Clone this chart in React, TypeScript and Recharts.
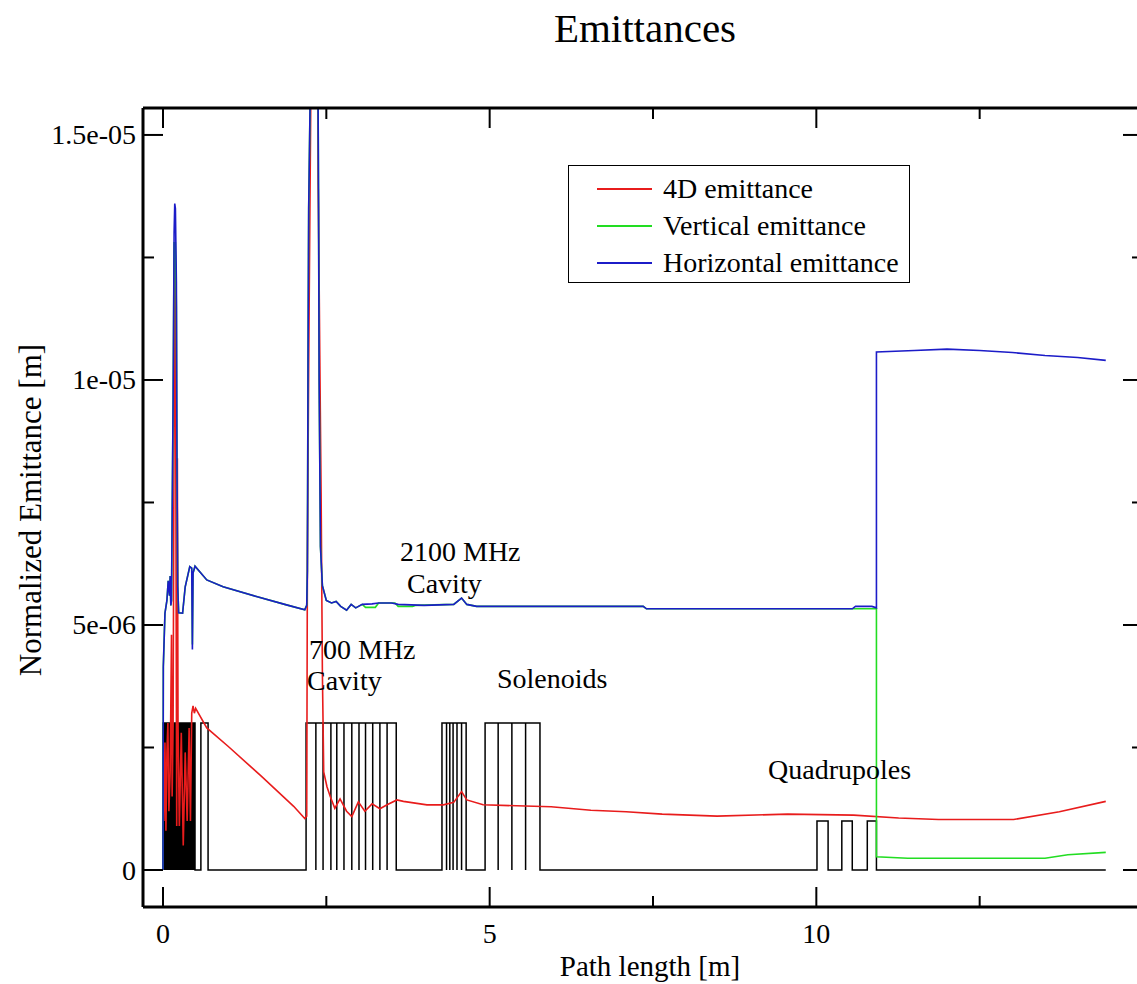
import React from 'react';
import { LineChart, Line, XAxis, YAxis, ReferenceArea, Legend } from 'recharts';

// emittance curves: [path length (m), emittance (1e-6 m)]
const RED_4D: [number, number][] = [
  [0, 2.0], [0.015, 1.0], [0.03, 2.6], [0.045, 0.8], [0.06, 2.4], [0.075, 3.0], [0.09, 1.2],
  [0.11, 2.0], [0.13, 4.8], [0.14, 1.5], [0.155, 3.0], [0.17, 9.0], [0.18, 12.5], [0.19, 12.0],
  [0.2, 6.0], [0.21, 0.9], [0.22, 8.4], [0.23, 3.0], [0.25, 0.9], [0.28, 2.8], [0.31, 0.5],
  [0.34, 2.4], [0.37, 1.0], [0.4, 2.9], [0.42, 1.0], [0.44, 3.2], [0.46, 3.35], [0.48, 3.2],
  [0.5, 3.3], [0.67, 2.9], [1.0, 2.52], [1.5, 1.92], [2.0, 1.3], [2.17, 1.05], [2.2, 1.1],
  [2.21, 6.2], [2.23, 10.3], [2.25, 13.7], [2.27, 17], [2.29, 20], [2.36, 20], [2.375, 14],
  [2.38, 13.5], [2.4, 10.5], [2.42, 7.7], [2.44, 4.0], [2.46, 2.0], [2.51, 1.7], [2.56, 1.5],
  [2.63, 1.26], [2.71, 1.45], [2.81, 1.2], [2.89, 1.09], [2.99, 1.39], [3.09, 1.2], [3.2, 1.35],
  [3.32, 1.25], [3.43, 1.33], [3.58, 1.43], [3.68, 1.4], [4.04, 1.33], [4.29, 1.33], [4.45, 1.38],
  [4.57, 1.6], [4.65, 1.43], [4.9, 1.33], [5.94, 1.29], [6.55, 1.22], [7.09, 1.19], [7.64, 1.14],
  [8.48, 1.1], [9.56, 1.14], [10.57, 1.12], [11.26, 1.06], [11.87, 1.03], [13.02, 1.03],
  [13.72, 1.19], [14.43, 1.4],
];

const GREEN_VERT: [number, number][] = [
  [0, 0], [0.005, 4.15], [0.03, 5.24], [0.06, 5.5], [0.08, 5.9], [0.1, 5.6], [0.11, 6.0],
  [0.12, 5.4], [0.13, 5.5], [0.14, 7.2], [0.155, 9.6], [0.17, 12.8], [0.19, 12.8],
  [0.205, 11.5], [0.215, 8.0], [0.225, 5.8], [0.24, 5.25], [0.3, 5.24], [0.34, 5.78],
  [0.41, 6.19], [0.44, 6.16], [0.45, 4.6], [0.46, 6.06], [0.49, 6.2], [0.67, 5.92], [0.92, 5.78],
  [1.43, 5.58], [1.89, 5.41], [2.17, 5.31], [2.2, 5.4], [2.21, 6.1], [2.22, 10.4], [2.23, 13.5],
  [2.26, 16.5], [2.29, 20], [2.36, 20], [2.38, 13.9], [2.39, 10.0], [2.41, 6.6], [2.44, 5.8],
  [2.5, 5.5], [2.58, 5.45], [2.65, 5.48], [2.72, 5.38], [2.81, 5.3], [2.88, 5.42], [2.95, 5.35],
  [3.05, 5.42], [3.1, 5.36], [3.25, 5.36], [3.3, 5.45], [3.55, 5.45], [3.6, 5.38], [3.82, 5.38],
  [3.86, 5.4], [4.45, 5.42], [4.57, 5.55], [4.65, 5.42], [4.8, 5.38], [7.35, 5.38], [7.4, 5.33],
  [10.92, 5.33], [10.92, 0.27], [11.4, 0.24], [13.5, 0.24], [13.85, 0.31], [14.43, 0.36],
];

const BLUE_HORIZ: [number, number][] = [
  [0, 0], [0.005, 4.15], [0.03, 5.24], [0.06, 5.5], [0.08, 5.9], [0.1, 5.6], [0.11, 6.0],
  [0.12, 5.4], [0.13, 5.5], [0.14, 7.2], [0.155, 9.6], [0.17, 13.0], [0.18, 13.6], [0.19, 13.5],
  [0.205, 12.0], [0.215, 8.0], [0.225, 5.8], [0.24, 5.25], [0.3, 5.24], [0.34, 5.78],
  [0.41, 6.19], [0.44, 6.16], [0.45, 4.5], [0.46, 6.06], [0.49, 6.2], [0.67, 5.92], [0.92, 5.78],
  [1.43, 5.58], [1.89, 5.41], [2.17, 5.31], [2.2, 5.4], [2.21, 6.1], [2.22, 10.4], [2.23, 13.5],
  [2.26, 16.5], [2.29, 20], [2.36, 20], [2.38, 13.9], [2.39, 10.0], [2.41, 6.6], [2.44, 5.8],
  [2.5, 5.5], [2.58, 5.45], [2.65, 5.48], [2.72, 5.38], [2.81, 5.3], [2.88, 5.42], [2.95, 5.35],
  [3.05, 5.42], [3.2, 5.43], [3.3, 5.45], [3.5, 5.45], [3.6, 5.42], [4.0, 5.4], [4.45, 5.42],
  [4.57, 5.55], [4.65, 5.42], [4.8, 5.38], [6.0, 5.38], [7.35, 5.38], [7.4, 5.33], [9.0, 5.33],
  [10.55, 5.33], [10.6, 5.38], [10.85, 5.38], [10.92, 5.35], [10.92, 10.57], [11.5, 10.6],
  [12.0, 10.63], [12.5, 10.6], [13.0, 10.56], [13.5, 10.5], [14.0, 10.46], [14.43, 10.4],
];

const SERIES_ORDER = ['4D emittance', 'Vertical emittance', 'Horizontal emittance'];

// beamline elements: edges of adjacent elements (m), element height (1e-6 m)
const DENSE_COILS = { x1: 0, x2: 0.49, height: 3 };
const ELEMENT_GROUPS: { edges: number[]; height: number }[] = [
  { edges: [0, 0.49], height: 3 },
  { edges: [0.58, 0.69], height: 3 },
  { edges: [2.19, 2.34, 2.45, 2.57, 2.66, 2.77, 2.89, 3.0, 3.1, 3.21, 3.32, 3.43, 3.57], height: 3 },
  { edges: [4.27, 4.34, 4.39, 4.44, 4.5, 4.57, 4.64], height: 3 },
  { edges: [4.93, 5.13, 5.34, 5.55, 5.77], height: 3 },
  { edges: [10.01, 10.18], height: 1 },
  { edges: [10.39, 10.55], height: 1 },
  { edges: [10.78, 10.92], height: 1 },
];
const PROFILE_END = 14.43;

const X_TICKS = [0, 2.5, 5, 7.5, 10, 12.5];
const Y_TICKS = [0, 2.5e-6, 5e-6, 7.5e-6, 1e-5, 1.25e-5, 1.5e-5];

const ANNOTATIONS = [
  { text: '2100 MHz', x: 400, y: 561 },
  { text: 'Cavity', x: 407, y: 593 },
  { text: '700 MHz', x: 309, y: 659 },
  { text: 'Cavity', x: 307, y: 690 },
  { text: 'Solenoids', x: 497, y: 688 },
  { text: 'Quadrupoles', x: 768, y: 779 },
];

const FONT = '"Liberation Serif", "Times New Roman", serif';
const INK = '#000';
const MAJOR = 20;
const MINOR = 11;

const toPts = (arr: [number, number][]) => arr.map(([x, y]) => ({ x, y: y * 1e-6 }));

function buildProfile() {
  const pts: { x: number; y: number }[] = [];
  for (const g of ELEMENT_GROUPS) {
    const h = g.height * 1e-6;
    const e = g.edges;
    pts.push({ x: e[0], y: 0 }, { x: e[0], y: h });
    for (let i = 1; i < e.length - 1; i++) {
      pts.push({ x: e[i], y: h }, { x: e[i], y: 0 }, { x: e[i], y: h });
    }
    pts.push({ x: e[e.length - 1], y: h }, { x: e[e.length - 1], y: 0 });
  }
  pts.push({ x: PROFILE_END, y: 0 });
  return pts;
}

const fmtExp = (v: number) =>
  v === 0 ? '0' : v.toExponential().replace(/e([+-])(\d)$/, 'e$10$2');
const majorY = (v: number) => Math.abs(v / 5e-6 - Math.round(v / 5e-6)) < 1e-6;

function BottomTick(props: any) {
  const { x, y, payload } = props;
  const major = payload.value % 5 === 0;
  return (
    <g>
      <line x1={x} x2={x} y1={y} y2={y - (major ? MAJOR : MINOR)} stroke={INK} strokeWidth={2} />
      {major && (
        <text x={x} y={y + 36} textAnchor="middle" fontFamily={FONT} fontSize={28} fill={INK}>
          {payload.value}
        </text>
      )}
    </g>
  );
}

function TopTick(props: any) {
  const { x, y, payload } = props;
  const major = payload.value % 5 === 0;
  return <line x1={x} x2={x} y1={y} y2={y + (major ? MAJOR : MINOR)} stroke={INK} strokeWidth={2} />;
}

function LeftTick(props: any) {
  const { x, y, payload } = props;
  const major = majorY(payload.value);
  return (
    <g>
      <line x1={x} x2={x + (major ? MAJOR : MINOR)} y1={y} y2={y} stroke={INK} strokeWidth={2} />
      {major && (
        <text x={x - 7} y={y + 9.5} textAnchor="end" fontFamily={FONT} fontSize={28} fill={INK}>
          {fmtExp(payload.value)}
        </text>
      )}
    </g>
  );
}

function RightTick(props: any) {
  const { x, y, payload } = props;
  const major = majorY(payload.value);
  return <line x1={x} x2={x - (major ? MAJOR : MINOR)} y1={y} y2={y} stroke={INK} strokeWidth={2} />;
}

function LegendBox(props: any) {
  const items = (props.payload || [])
    .filter((p: any) => p.type !== 'none')
    .sort((a: any, b: any) => SERIES_ORDER.indexOf(a.value) - SERIES_ORDER.indexOf(b.value));
  return (
    <div
      style={{
        width: 342, height: 118, boxSizing: 'border-box', border: '1.5px solid #000',
        background: '#fff', paddingTop: 4, fontFamily: FONT,
      }}
    >
      {items.map((p: any) => (
        <div key={p.value} style={{ display: 'flex', alignItems: 'center', height: 37 }}>
          <div style={{ marginLeft: 28, width: 55, height: 2, background: p.color }} />
          <span style={{ marginLeft: 11, fontSize: 28, lineHeight: 1, color: INK }}>{p.value}</span>
        </div>
      ))}
    </div>
  );
}

export default function App() {
  const profile = buildProfile();
  const frame = { stroke: INK, strokeWidth: 3 };
  return (
    <div
      style={{
        position: 'absolute', left: 0, top: 0, width: 1137, height: 984,
        overflow: 'hidden', background: '#fff',
      }}
    >
      <LineChart width={1160} height={984} margin={{ top: 107, right: 16, bottom: 76, left: 142 }}>
        <XAxis
          xAxisId="b" type="number" dataKey="x" domain={[-0.306, 15.0]} allowDataOverflow
          ticks={X_TICKS} interval={0} height={1} tickSize={0} tickMargin={0}
          tickLine={false} axisLine={frame} tick={BottomTick}
        />
        <XAxis
          xAxisId="t" orientation="top" type="number" dataKey="x" domain={[-0.306, 15.0]}
          allowDataOverflow ticks={X_TICKS} interval={0} height={1} tickSize={0} tickMargin={0}
          tickLine={false} axisLine={frame} tick={TopTick}
        />
        <YAxis
          yAxisId="l" type="number" domain={[-0.755e-6, 1.555e-5]} allowDataOverflow
          ticks={Y_TICKS} interval={0} width={1} tickSize={0} tickMargin={0}
          tickLine={false} axisLine={frame} tick={LeftTick}
        />
        <YAxis
          yAxisId="r" orientation="right" type="number" domain={[-0.755e-6, 1.555e-5]}
          allowDataOverflow ticks={Y_TICKS} interval={0} width={1} tickSize={0} tickMargin={0}
          tickLine={false} axisLine={frame} tick={RightTick}
        />
        <ReferenceArea
          xAxisId="b" yAxisId="l" x1={DENSE_COILS.x1} x2={DENSE_COILS.x2}
          y1={0} y2={DENSE_COILS.height * 1e-6} fill="#000" fillOpacity={1} stroke="none"
        />
        <Line
          xAxisId="b" yAxisId="l" data={profile} dataKey="y" name="Elements" stroke="#000"
          strokeWidth={1.5} dot={false} legendType="none" isAnimationActive={false}
        />
        <Line
          xAxisId="b" yAxisId="l" data={toPts(RED_4D)} dataKey="y" name="4D emittance"
          stroke="#e81c1c" strokeWidth={1.6} dot={false} isAnimationActive={false}
        />
        <Line
          xAxisId="b" yAxisId="l" data={toPts(GREEN_VERT)} dataKey="y" name="Vertical emittance"
          stroke="#22dd22" strokeWidth={1.6} dot={false} isAnimationActive={false}
        />
        <Line
          xAxisId="b" yAxisId="l" data={toPts(BLUE_HORIZ)} dataKey="y" name="Horizontal emittance"
          stroke="#1c1cc8" strokeWidth={1.6} dot={false} isAnimationActive={false}
        />
        <Legend
          verticalAlign="middle" align="center" content={LegendBox}
          wrapperStyle={{ left: 568, top: 165, width: 342, height: 118 }}
        />
      </LineChart>
      <svg
        width={1137} height={984}
        style={{ position: 'absolute', left: 0, top: 0, pointerEvents: 'none' }}
      >
        <text x={645} y={42} textAnchor="middle" fontFamily={FONT} fontSize={41} fill={INK}>
          Emittances
        </text>
        <text x={650} y={976} textAnchor="middle" fontFamily={FONT} fontSize={29} fill={INK}>
          Path length [m]
        </text>
        <text
          x={0} y={0} transform="translate(41 510) rotate(-90)" textAnchor="middle"
          fontFamily={FONT} fontSize={31} fill={INK}
        >
          Normalized Emittance [m]
        </text>
        {ANNOTATIONS.map((a, i) => (
          <text key={i} x={a.x} y={a.y} fontFamily={FONT} fontSize={28} fill={INK}>
            {a.text}
          </text>
        ))}
      </svg>
    </div>
  );
}
